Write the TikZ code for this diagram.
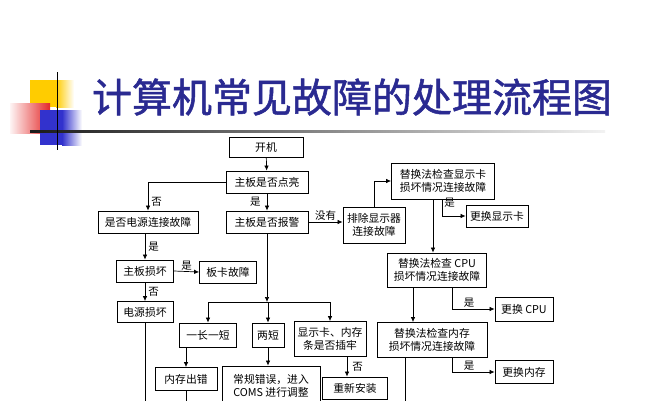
\documentclass[tikz,border=0pt]{standalone}
\usepackage{fontspec}
\setmainfont{Noto Sans CJK SC}
\newfontfamily\titlefont[FakeBold=1.3]{Noto Sans CJK SC}
\usetikzlibrary{arrows.meta}
\definecolor{titleblue}{RGB}{42,42,145}
\definecolor{decoyellow}{RGB}{255,204,0}
\definecolor{decored}{RGB}{228,40,40}
\definecolor{decoblue}{RGB}{50,50,205}
\tikzset{
  box/.style={draw, line width=0.8pt, fill=white, align=center, inner sep=1pt,
    font=\fontsize{10.8}{13}\selectfont},
  lbl/.style={font=\fontsize{10.5}{11}\selectfont, inner sep=1pt},
  arr/.style={line width=0.7pt, -{Latex[length=5pt,width=4.5pt]}},
  ln/.style={line width=0.7pt}
}
\begin{document}
\begin{tikzpicture}[x=1pt, y=-1pt]
    \useasboundingbox (0,0) rectangle (667,400);

    % Decoracion
    \fill[decoyellow] (30,80) rectangle (56,107);
    \shade[left color=decoyellow, right color=white] (56,80) rectangle (74,107);
    \shade[left color=decored!5, right color=decored] (10,103) rectangle (50,133);
    \fill[decoblue] (40,110) rectangle (62,145);
    \shade[left color=decoblue, right color=white] (62,110) rectangle (82,145);
    \shade[left color=black!90, right color=black!5] (30,130) rectangle (605,132);
    \draw[line width=1pt] (57,72) -- (57,150);

    % Titulo
    \node[text=titleblue, font=\fontsize{40}{40}\titlefont] (title) at (352,97) {计算机常见故障的处理流程图};

    % Cajas
    \node[box, minimum width=74pt, minimum height=20pt] (kaiji) at (266,147) {开机};
    \node[box, minimum width=82pt, minimum height=22pt] (dianliang) at (267,182) {主板是否点亮};
    \node[box, minimum width=100pt, minimum height=22pt] (dianyuan) at (148,222) {是否电源连接故障};
    \node[box, minimum width=82pt, minimum height=22pt] (baojing) at (267,222) {主板是否报警};
    \node[box, minimum width=62pt, minimum height=36pt] (paichu) at (374,225) {排除显示器\\连接故障};
    \node[box, minimum width=103pt, minimum height=36pt] (xianka) at (443,181) {替换法检查显示卡\\损坏情况连接故障};
    \node[box, minimum width=62pt, minimum height=22pt] (genghuanxk) at (497,216) {更换显示卡};
    \node[box, minimum width=57pt, minimum height=22pt] (zhuban) at (145,271) {主板损坏};
    \node[box, minimum width=57pt, minimum height=22pt] (banka) at (228,272) {板卡故障};
    \node[box, minimum width=56pt, minimum height=21pt] (dianyuansh) at (145,312) {电源损坏};
    \node[box, minimum width=57pt, minimum height=24pt] (yichang) at (208,335) {一长一短};
    \node[box, minimum width=32pt, minimum height=24pt] (liangduan) at (268,335) {两短};
    \node[box, minimum width=72pt, minimum height=35pt] (chalao) at (330,339) {显示卡、内存\\条是否插牢};
    \node[box, minimum width=99pt, minimum height=34pt] (cpu) at (437,270) {替换法检查 CPU\\损坏情况连接故障};
    \node[box, minimum width=58pt, minimum height=24pt] (genghuancpu) at (524,309) {更换 CPU};
    \node[box, minimum width=110pt, minimum height=35pt] (neicun) at (432,340) {替换法检查内存\\损坏情况连接故障};
    \node[box, minimum width=58pt, minimum height=23pt] (genghuannc) at (524,372) {更换内存};
    \node[box, minimum width=62pt, minimum height=23pt] (neicuncc) at (186,379) {内存出错};
    \node[box, minimum width=98pt, minimum height=40pt] (changgui) at (271,386) {常规错误，进入\\COMS 进行调整};
    \node[box, minimum width=65pt, minimum height=22pt] (chongxin) at (355,388) {重新安装};

    % Puntos auxiliares
    \coordinate (bus) at (0,302);
    \coordinate (bottom) at (0,404);

    % Conectores
    \draw[arr] (kaiji) -- (dianliang);
    \draw[arr] (dianliang.west) -| (dianyuan.north) node[lbl, pos=0.85, right=2pt] {否};
    \draw[arr] (dianliang) -- (baojing) node[lbl, midway, left=5pt] {是};
    \draw[arr] (baojing.east) -- (baojing.east -| paichu.west) node[lbl, midway, above] {没有};
    \draw[arr] (paichu.north) |- (xianka.west);
    \draw[arr] ([xshift=-1pt]xianka.south) |- (genghuanxk.west) node[lbl, pos=0.3, above right=1pt] {是};
    \draw[arr] ([xshift=-10pt]xianka.south) -- ([xshift=-10pt]xianka.south |- cpu.north);

    \draw[arr] (dianyuan.south -| zhuban.north) -- (zhuban.north) node[lbl, midway, right=2pt] {是};
    \draw[arr] (zhuban.east) -- (banka.west) node[lbl, midway, above] {是};
    \draw[arr] (zhuban) -- (dianyuansh) node[lbl, midway, right=2pt] {否};
    \draw[ln] (dianyuansh.south) -- (dianyuansh.south |- bottom);

    \draw[arr] (baojing.south) -- (baojing.south |- bus);
    \draw[ln] (yichang.north |- bus) -- (chalao.north |- bus);
    \foreach \n in {yichang, liangduan, chalao}
        \draw[arr] (\n.north |- bus) -- (\n.north);

    \draw[arr] (neicuncc.north |- yichang.south) -- (neicuncc.north);
    \draw[ln] (neicuncc.south) -- (neicuncc.south |- bottom);
    \draw[arr] (liangduan) -- (changgui.north -| liangduan);
    \draw[arr] ([xshift=-8pt]chongxin.north |- chalao.south) -- ([xshift=-8pt]chongxin.north) node[lbl, midway, right=4pt] {否};

    \draw[arr] ([xshift=-24pt]cpu.south) -- ([xshift=-24pt]cpu.south |- neicun.north);
    \draw[arr] ([xshift=15pt]cpu.south) |- (genghuancpu.west) node[lbl, pos=0.7, above] {是};
    \draw[arr] ([xshift=20pt]neicun.south) |- (genghuannc.west) node[lbl, pos=0.7, above] {是};
    \draw[ln] ([xshift=-27pt]neicun.south) -- ([xshift=-27pt]neicun.south |- bottom);
\end{tikzpicture}
\end{document}
